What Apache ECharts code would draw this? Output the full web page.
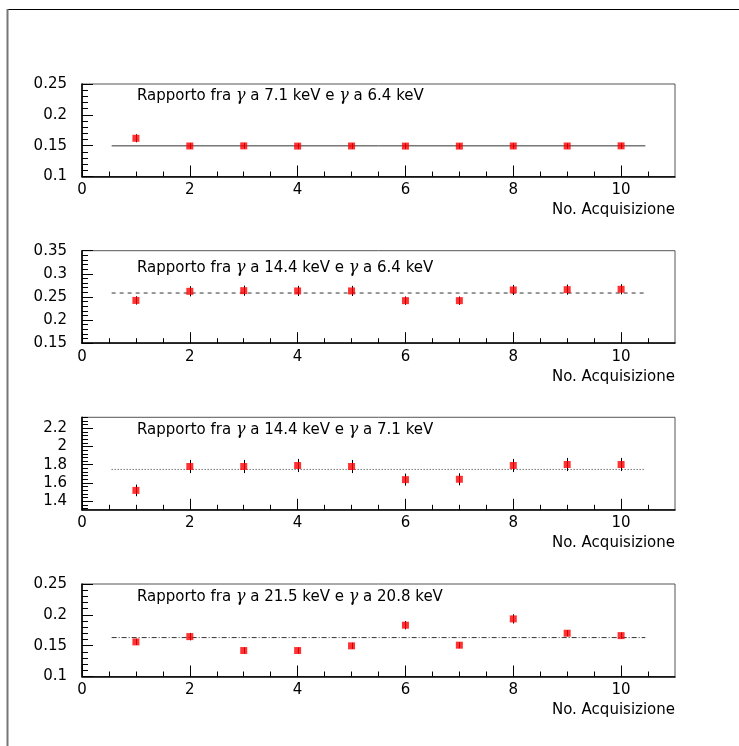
<!DOCTYPE html>
<html>
<head>
<meta charset="utf-8">
<script src="https://cdn.jsdelivr.net/npm/echarts@6/dist/echarts.min.js"></script>
<style>
  html, body { margin: 0; padding: 0; background: #fff; }
  #main { width: 739px; height: 746px; }
</style>
</head>
<body>
<div id="main"></div>
<script>
// Acquisition number (x) for every panel
const acquisitions = [1, 2, 3, 4, 5, 6, 7, 8, 9, 10];

// Ratio gamma 7.1 keV / gamma 6.4 keV
const ratio71over64 = [0.162, 0.1495, 0.1497, 0.1493, 0.1495, 0.1493, 0.1493, 0.1495, 0.1495, 0.1497];
const err71over64   = [0.0065, 0.0045, 0.0045, 0.0045, 0.0045, 0.0045, 0.0045, 0.0045, 0.0045, 0.0045];

// Ratio gamma 14.4 keV / gamma 6.4 keV
const ratio144over64 = [0.2425, 0.2622, 0.2636, 0.2630, 0.2630, 0.2420, 0.2420, 0.2651, 0.2658, 0.2666];
const err144over64   = [0.009, 0.011, 0.011, 0.011, 0.011, 0.009, 0.009, 0.011, 0.011, 0.011];

// Ratio gamma 14.4 keV / gamma 7.1 keV
const ratio144over71 = [1.518, 1.780, 1.780, 1.791, 1.780, 1.636, 1.640, 1.791, 1.802, 1.802];
const err144over71   = [0.064, 0.072, 0.072, 0.072, 0.072, 0.066, 0.066, 0.072, 0.072, 0.072];

// Ratio gamma 21.5 keV / gamma 20.8 keV
const ratio215over208 = [0.1561, 0.1647, 0.1421, 0.1421, 0.1497, 0.1832, 0.1508, 0.1934, 0.1702, 0.1663];
const err215over208   = [0.005, 0.006, 0.005, 0.005, 0.005, 0.0067, 0.005, 0.0075, 0.005, 0.005];

// Constant fits (pol0) and the x range they were fitted over
const fitValues = [0.1497, 0.2585, 1.748, 0.1631];
const fitRange = [0.55, 10.45];

// Panel titles
const panelTitles = [
  'Rapporto fra {g|γ} a 7.1 keV e {g|γ} a 6.4 keV',
  'Rapporto fra {g|γ} a 14.4 keV e {g|γ} a 6.4 keV',
  'Rapporto fra {g|γ} a 14.4 keV e {g|γ} a 7.1 keV',
  'Rapporto fra {g|γ} a 21.5 keV e {g|γ} a 20.8 keV'
];
const xAxisTitle = 'No. Acquisizione';

// Tick labels
const xTickLabels = [0, 2, 4, 6, 8, 10];
const yTickLabels = [
  [0.1, 0.15, 0.2, 0.25],
  [0.15, 0.2, 0.25, 0.3, 0.35],
  [1.4, 1.6, 1.8, 2, 2.2],
  [0.1, 0.15, 0.2, 0.25]
];
const yRanges = [[0.1, 0.25], [0.15, 0.35], [1.305, 2.32], [0.1, 0.25]];
const yMinorSteps = [0.01, 0.01, 0.04, 0.01];
const xRange = [0, 11];
const xMinorStep = 0.5;

const panelValues = [ratio71over64, ratio144over64, ratio144over71, ratio215over208];
const panelErrors = [err71over64, err144over64, err144over71, err215over208];
const fitLineTypes = ['solid', [4, 4], [1, 2], [5, 2, 1, 2]];

// Layout
const gridTops = [84, 250.7, 417.3, 584];
const gridHeight = 92.5;
const gridLeft = 82;
const gridRight = 64;
const titleCenters = [96, 267.7, 430, 596.7];
const FONT = 'DejaVu Sans';
const FONT_SIZE = 15;

function round(v) { return Math.round(v * 1e6) / 1e6; }

// Minor tick positions spanning an axis range
function minorTicks(min, max, anchor, step) {
  const out = [];
  let start = anchor;
  while (start - step >= min - 1e-9) start -= step;
  for (let v = start; v <= max + 1e-9; v += step) out.push(round(v));
  return out;
}

const fmt = v => String(Number(Number(v).toFixed(4)));

const grids = [], xAxes = [], yAxes = [], series = [], titles = [];

for (let i = 0; i < 4; i++) {
  grids.push({
    left: gridLeft, right: gridRight, top: gridTops[i], height: gridHeight,
    show: true, borderColor: '#555', borderWidth: 1, backgroundColor: 'transparent'
  });

  // main x axis: labels + long ticks
  xAxes.push({
    type: 'value', gridIndex: i, min: xRange[0], max: xRange[1], position: 'bottom',
    axisLine: { show: true, onZero: false, lineStyle: { color: '#000', width: 1.6 } },
    axisTick: { show: true, inside: true, length: 11, customValues: xTickLabels, lineStyle: { color: '#000', width: 1 } },
    axisLabel: { customValues: xTickLabels, margin: 6, fontSize: FONT_SIZE, fontFamily: FONT, color: '#000', formatter: fmt },
    splitLine: { show: false },
    name: xAxisTitle, nameLocation: 'end', nameGap: 0,
    nameTextStyle: { fontSize: FONT_SIZE, fontFamily: FONT, color: '#000', align: 'right', verticalAlign: 'top', padding: [26, 0, 0, 0] }
  });
  // secondary x axis: short ticks
  xAxes.push({
    type: 'value', gridIndex: i, min: xRange[0], max: xRange[1], position: 'bottom',
    axisLine: { show: false, onZero: false },
    axisTick: { show: true, inside: true, length: 5, customValues: minorTicks(xRange[0], 10.5, 0, xMinorStep).filter(v => v > 0), lineStyle: { color: '#000', width: 1 } },
    axisLabel: { show: false },
    splitLine: { show: false }
  });

  const [ymin, ymax] = yRanges[i];
  yAxes.push({
    type: 'value', gridIndex: i, min: ymin, max: ymax, position: 'left',
    axisLine: { show: true, onZero: false, lineStyle: { color: '#000', width: 1.6 } },
    axisTick: { show: true, inside: true, length: 11, customValues: yTickLabels[i], lineStyle: { color: '#000', width: 1 } },
    axisLabel: { customValues: yTickLabels[i], margin: 15, fontSize: FONT_SIZE, fontFamily: FONT, color: '#000', formatter: fmt },
    splitLine: { show: false }
  });
  yAxes.push({
    type: 'value', gridIndex: i, min: ymin, max: ymax, position: 'left',
    axisLine: { show: false, onZero: false },
    axisTick: { show: true, inside: true, length: 6, customValues: minorTicks(ymin, ymax, yTickLabels[i][0], yMinorSteps[i]), lineStyle: { color: '#000', width: 1 } },
    axisLabel: { show: false },
    splitLine: { show: false }
  });

  const xi = 2 * i, yi = 2 * i;
  const vals = panelValues[i], errs = panelErrors[i];

  // constant fit
  series.push({
    type: 'line', xAxisIndex: xi, yAxisIndex: yi, silent: true, z: 2,
    data: [[fitRange[0], fitValues[i]], [fitRange[1], fitValues[i]]],
    symbol: 'none', lineStyle: { color: '#333', width: 1, type: fitLineTypes[i] }
  });

  // error bars
  series.push({
    type: 'custom', xAxisIndex: xi, yAxisIndex: yi, silent: true, z: 3,
    data: acquisitions.map((x, k) => [x, vals[k] - errs[k], vals[k] + errs[k]]),
    renderItem: function (params, api) {
      const lo = api.coord([api.value(0), api.value(1)]);
      const hi = api.coord([api.value(0), api.value(2)]);
      return {
        type: 'line',
        shape: { x1: Math.round(lo[0]) + 0.5, y1: lo[1], x2: Math.round(hi[0]) + 0.5, y2: hi[1] },
        style: { stroke: '#000', lineWidth: 1 }
      };
    }
  });

  // measured points
  series.push({
    type: 'scatter', xAxisIndex: xi, yAxisIndex: yi, silent: true, z: 4,
    data: acquisitions.map((x, k) => [x, vals[k]]),
    symbol: 'rect', symbolSize: 7,
    itemStyle: { color: '#ff0000' }
  });

  titles.push({
    text: panelTitles[i], left: 137, top: titleCenters[i] - 9, padding: 0,
    textStyle: {
      fontSize: FONT_SIZE, fontWeight: 'normal', fontFamily: FONT, color: '#000', lineHeight: 18,
      rich: { g: { fontFamily: 'DejaVu Serif', fontStyle: 'italic', fontSize: 16, color: '#000', lineHeight: 18 } }
    }
  });
}

const chart = echarts.init(document.getElementById('main'), null, { renderer: 'canvas' });
chart.setOption({
  animation: false,
  backgroundColor: '#fff',
  title: titles,
  grid: grids,
  xAxis: xAxes,
  yAxis: yAxes,
  series: series,
  graphic: [
    { type: 'line', shape: { x1: 7, y1: 9.5, x2: 739, y2: 9.5 }, style: { stroke: '#000', lineWidth: 1.2 }, silent: true },
    { type: 'line', shape: { x1: 7.5, y1: 9, x2: 7.5, y2: 746 }, style: { stroke: '#777', lineWidth: 2 }, silent: true }
  ]
});
</script>
</body>
</html>
